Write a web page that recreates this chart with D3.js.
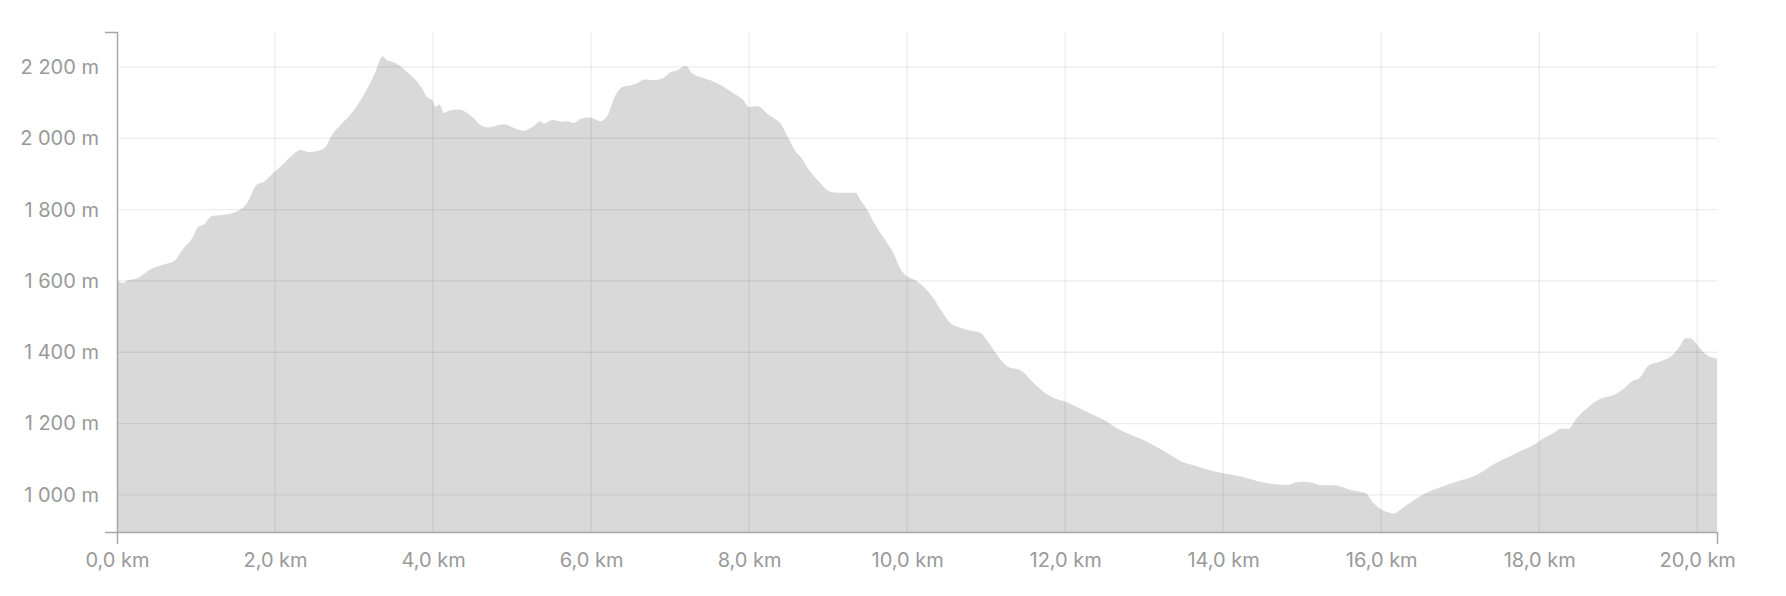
<!DOCTYPE html>
<html>
<head>
<meta charset="utf-8">
<script src="https://cdn.jsdelivr.net/npm/d3@7"></script>
<style>
  body { margin: 0; background: #fff; }
  .axis text { font-family: Inter, "Noto Sans", sans-serif; font-size: 20px; fill: #999; }
  .axis path { stroke: #a6a6a6; stroke-width: 1.5px; }
</style>
</head>
<body>
<script>
// chart size
var W = 1786;
var H = 596;
var margin = { top: 32, right: 69, bottom: 64, left: 117 };

// distance along the route (km) and elevation (m)
var distKm = [0.00, 0.08, 0.13, 0.25, 0.42, 0.59, 0.72, 0.84, 0.95, 1.03,
  1.10, 1.20, 1.31, 1.52, 1.65, 1.77, 1.86, 1.98, 2.11, 2.22,
  2.32, 2.43, 2.53, 2.64, 2.72, 2.83, 3.00, 3.17, 3.27, 3.36,
  3.42, 3.48, 3.57, 3.67, 3.76, 3.86, 3.93, 3.99, 4.03, 4.08,
  4.14, 4.20, 4.33, 4.41, 4.52, 4.60, 4.69, 4.90, 5.02, 5.15,
  5.26, 5.36, 5.40, 5.51, 5.64, 5.70, 5.78, 5.87, 5.97, 6.04,
  6.12, 6.21, 6.25, 6.31, 6.40, 6.50, 6.59, 6.67, 6.80, 6.92,
  7.01, 7.07, 7.20, 7.28, 7.43, 7.56, 7.68, 7.81, 7.92, 8.00,
  8.11, 8.23, 8.36, 8.40, 8.49, 8.59, 8.65, 8.76, 8.87, 8.99,
  9.08, 9.20, 9.35, 9.41, 9.50, 9.58, 9.71, 9.82, 9.92, 10.00,
  10.11, 10.21, 10.32, 10.43, 10.55, 10.68, 10.81, 10.93, 11.04, 11.14,
  11.27, 11.44, 11.61, 11.76, 11.90, 12.01, 12.16, 12.32, 12.50, 12.66,
  12.83, 13.00, 13.17, 13.34, 13.47, 13.63, 13.80, 13.97, 14.14, 14.31,
  14.48, 14.65, 14.82, 14.90, 15.01, 15.13, 15.24, 15.41, 15.51, 15.62,
  15.70, 15.81, 15.89, 15.98, 16.08, 16.16, 16.25, 16.38, 16.55, 16.76,
  16.97, 17.17, 17.30, 17.43, 17.60, 17.75, 17.93, 18.05, 18.19, 18.28,
  18.37, 18.47, 18.60, 18.78, 18.95, 19.07, 19.20, 19.26, 19.39, 19.54,
  19.69, 19.79, 19.85, 19.91, 20.02, 20.12, 20.25];

var elevM = [1602, 1594, 1602, 1607, 1632, 1646, 1655, 1691, 1719, 1752,
  1758, 1782, 1784, 1795, 1820, 1870, 1878, 1903, 1929, 1953,
  1967, 1961, 1964, 1976, 2009, 2037, 2079, 2140, 2186, 2230,
  2219, 2215, 2205, 2186, 2168, 2140, 2114, 2107, 2088, 2095,
  2071, 2077, 2081, 2074, 2055, 2037, 2030, 2039, 2029, 2021,
  2032, 2048, 2041, 2051, 2046, 2048, 2043, 2055, 2058, 2055,
  2048, 2065, 2088, 2121, 2144, 2149, 2155, 2165, 2163, 2170,
  2186, 2189, 2203, 2182, 2168, 2158, 2144, 2125, 2109, 2088,
  2090, 2069, 2049, 2041, 2004, 1962, 1948, 1910, 1882, 1854,
  1848, 1847, 1847, 1826, 1798, 1763, 1719, 1681, 1632, 1613,
  1601, 1583, 1555, 1518, 1481, 1468, 1460, 1454, 1424, 1392,
  1360, 1349, 1312, 1284, 1268, 1261, 1245, 1228, 1209, 1186,
  1169, 1153, 1133, 1111, 1094, 1083, 1071, 1062, 1055, 1047,
  1036, 1030, 1028, 1034, 1037, 1034, 1027, 1027, 1022, 1013,
  1010, 1004, 980, 962, 952, 948, 960, 980, 1003, 1022,
  1038, 1052, 1068, 1087, 1105, 1122, 1140, 1158, 1175, 1186,
  1185, 1214, 1242, 1270, 1281, 1298, 1322, 1326, 1364, 1375,
  1392, 1420, 1439, 1439, 1415, 1392, 1382];

var xTicks = [0, 2, 4, 6, 8, 10, 12, 14, 16, 18, 20];
var yTicks = [1000, 1200, 1400, 1600, 1800, 2000, 2200];
var yDomain = [896, 2298];

function main() {
  var w = W - margin.left - margin.right;
  var h = H - margin.top - margin.bottom;

  var svg = d3.select("body")
    .append("svg")
    .attr("width", W)
    .attr("height", H);

  var g = svg.append("g")
    .attr("transform", "translate(" + margin.left + "," + margin.top + ")");

  var points = distKm.map(function(d, i) {
    return { km: d, elev: elevM[i] };
  });

  var x = d3.scaleLinear()
    .domain([0, d3.max(distKm)])
    .range([0, w]);

  var y = d3.scaleLinear()
    .domain(yDomain)
    .range([h, 0]);

  // filled profile
  var area = d3.area()
    .x(function(d) { return x(d.km); })
    .y0(h)
    .y1(function(d) { return y(d.elev); })
    .curve(d3.curveMonotoneX);

  g.append("path")
    .datum(points)
    .attr("d", area)
    .attr("fill", "#d9d9d9");

  // grid on top, translucent so it shows darker over the fill
  g.append("g")
    .selectAll("line")
    .data(yTicks)
    .enter()
    .append("line")
    .attr("x1", 0)
    .attr("x2", w)
    .attr("y1", function(d) { return y(d); })
    .attr("y2", function(d) { return y(d); })
    .attr("stroke", "rgba(0,0,0,0.075)")
    .attr("stroke-width", 1.3);

  g.append("g")
    .selectAll("line")
    .data(xTicks.slice(1))
    .enter()
    .append("line")
    .attr("x1", function(d) { return x(d); })
    .attr("x2", function(d) { return x(d); })
    .attr("y1", 0)
    .attr("y2", h)
    .attr("stroke", "rgba(0,0,0,0.075)")
    .attr("stroke-width", 1.3);

  var loc = d3.formatLocale({ decimal: ",", thousands: " ", grouping: [3], currency: ["", ""] });
  var fmtY = loc.format(",d");
  var fmtX = loc.format(".1f");

  g.append("g")
    .attr("class", "axis")
    .call(d3.axisLeft(y)
      .tickValues(yTicks)
      .tickSize(0)
      .tickSizeOuter(12)
      .tickPadding(18)
      .tickFormat(function(d) { return fmtY(d) + " m"; }))
    .call(function(s) { s.select(".domain").attr("fill", "none"); });

  g.append("g")
    .attr("class", "axis")
    .attr("transform", "translate(0," + h + ")")
    .call(d3.axisBottom(x)
      .tickValues(xTicks)
      .tickSize(0)
      .tickSizeOuter(12)
      .tickPadding(21)
      .tickFormat(function(d) { return fmtX(d) + " km"; }))
    .call(function(s) { s.select(".domain").attr("fill", "none"); });

  svg.selectAll(".axis text").attr("font-family", null).attr("font-size", null);
}

main();
</script>
</body>
</html>
